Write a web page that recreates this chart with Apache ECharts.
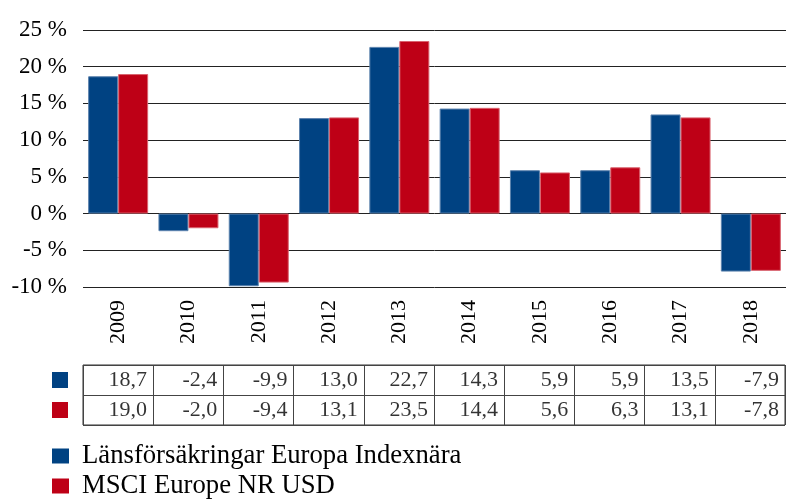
<!DOCTYPE html>
<html>
<head>
<meta charset="utf-8">
<script src="https://cdn.jsdelivr.net/npm/echarts@6/dist/echarts.min.js"></script>
<style>
	html, body { margin: 0; padding: 0; background: #fff; }
	#chart { width: 786px; height: 500px; }
</style>
</head>
<body>
<div id="chart"></div>
<script>
// data
var years = ["2009", "2010", "2011", "2012", "2013", "2014", "2015", "2016", "2017", "2018"];
var fundName = "Länsförsäkringar Europa Indexnära";
var indexName = "MSCI Europe NR USD";
var fundValues = [18.7, -2.4, -9.9, 13.0, 22.7, 14.3, 5.9, 5.9, 13.5, -7.9];
var indexValues = [19.0, -2.0, -9.4, 13.1, 23.5, 14.4, 5.6, 6.3, 13.1, -7.8];
var yTicks = [-10, -5, 0, 5, 10, 15, 20, 25];

var blue = "#004282";
var red = "#be0016";
var font = "Liberation Serif";

function cellRows(values, row) {
	return values.map(function(v, i) { return [i, row, v]; });
}

function legendFor(name, top) {
	return {
		data: [name],
		left: 47,
		top: top,
		icon: "rect",
		itemWidth: 17,
		itemHeight: 15,
		itemStyle: { borderWidth: 0 },
		textStyle: { fontFamily: font, fontSize: 26.7, lineHeight: 26, color: "#000", padding: [6, 0, 0, 8] }
	};
}

var chart = echarts.init(document.getElementById("chart"));

var option = {
	animation: false,
	textStyle: { fontFamily: font, color: "#000" },
	grid: [
		{ left: 83, right: 0, top: 30, height: 257 },
		{ left: 83, right: 1, top: 365, height: 60, show: true, borderColor: "#333", borderWidth: 1 }
	],
	legend: [legendFor(fundName, 435), legendFor(indexName, 465)],
	xAxis: [
		{
			type: "category",
			gridIndex: 0,
			data: years,
			axisLine: { show: false, onZero: false },
			axisTick: { show: false },
			axisLabel: { rotate: 90, margin: 13, fontSize: 22, fontFamily: font, color: "#000" }
		},
		{
			type: "category",
			gridIndex: 1,
			data: years,
			axisLine: { show: false },
			axisTick: { show: false },
			axisLabel: { show: false },
			splitLine: { show: true, lineStyle: { color: "#444", width: 1 } }
		}
	],
	yAxis: [
		{
			type: "value",
			gridIndex: 0,
			min: yTicks[0],
			max: yTicks[yTicks.length - 1],
			interval: 5,
			axisLine: { show: false },
			axisTick: { show: false },
			axisLabel: {
				margin: 16, fontSize: 23, fontFamily: font, color: "#000",
				formatter: function(v) { return v + " %"; }
			},
			splitLine: { lineStyle: { color: "#222", width: 1 } }
		},
		{
			type: "category",
			gridIndex: 1,
			inverse: true,
			data: ["fund", "index"],
			axisLine: { show: false },
			axisTick: { show: false },
			splitLine: { show: true, lineStyle: { color: "#444", width: 1 } },
			axisLabel: {
				margin: 15,
				formatter: function(v) { return v == "fund" ? "{a|}" : "{b|}"; },
				rich: {
					a: { width: 16, height: 16, backgroundColor: blue },
					b: { width: 16, height: 16, backgroundColor: red }
				}
			}
		}
	],
	series: [
		{
			name: fundName,
			type: "bar",
			data: fundValues,
			barWidth: 30,
			barGap: "0%",
			itemStyle: { color: blue, borderColor: "#5b82ad", borderWidth: 1 }
		},
		{
			name: indexName,
			type: "bar",
			data: indexValues,
			barWidth: 30,
			itemStyle: { color: red, borderColor: "#d9636f", borderWidth: 1 }
		},
		{
			type: "scatter",
			xAxisIndex: 1,
			yAxisIndex: 1,
			silent: true,
			symbolSize: 1,
			itemStyle: { color: "transparent" },
			data: cellRows(fundValues, 0).concat(cellRows(indexValues, 1)),
			label: {
				show: true,
				position: "inside",
				align: "right",
				offset: [29, 0],
				fontSize: 22,
				fontFamily: font,
				color: "#000",
				formatter: function(p) { return p.value[2].toFixed(1).replace(".", ","); }
			}
		}
	]
};

chart.setOption(option);
</script>
</body>
</html>
